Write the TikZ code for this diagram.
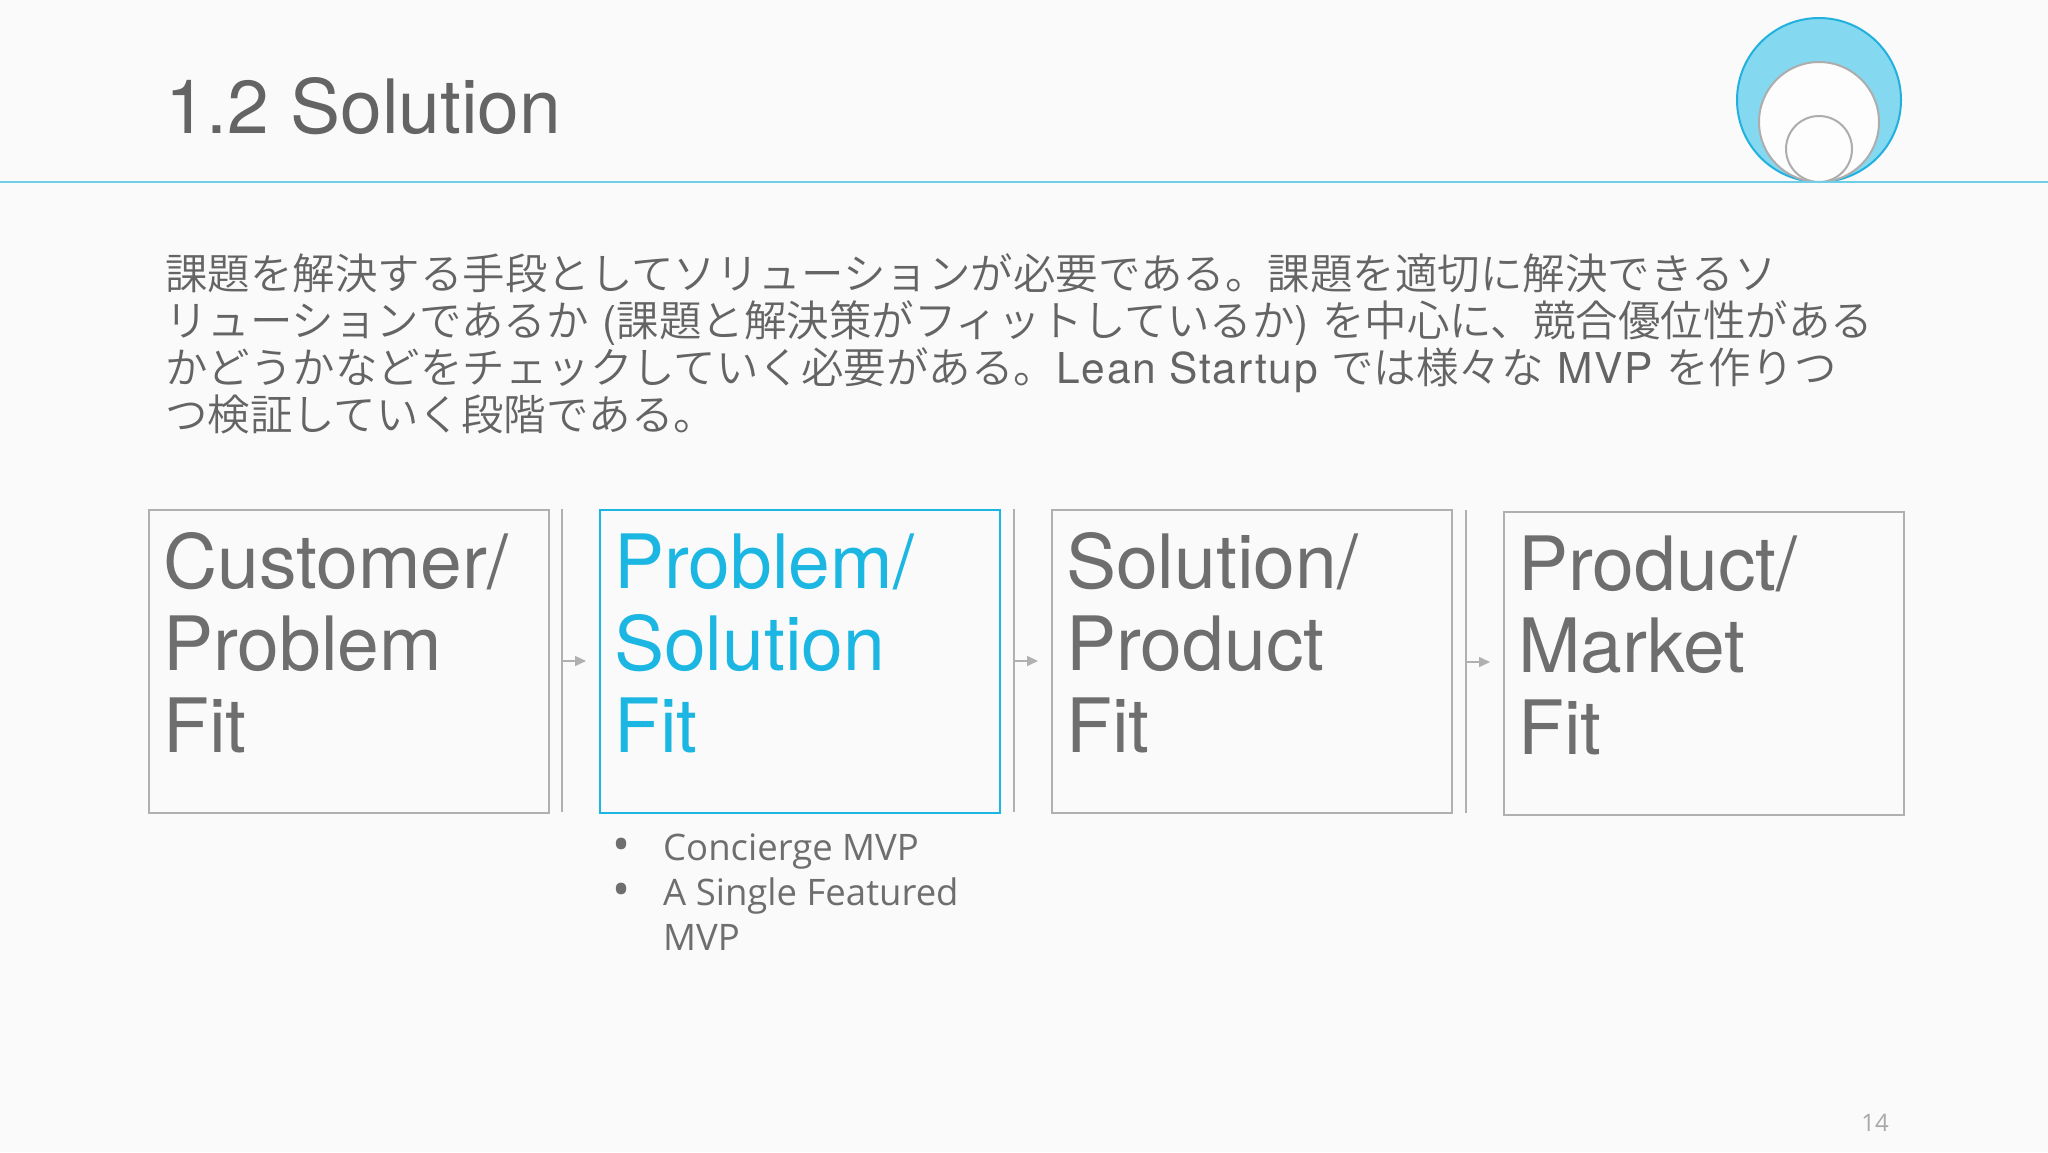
\documentclass[tikz,border=0pt]{standalone}
\usepackage{fontspec}
\usetikzlibrary{arrows.meta}
\newfontfamily\jpfont{Noto Sans CJK JP DemiLight}
\newfontfamily\helv{TeX Gyre Heros}
\newfontfamily\latf{TeX Gyre Heros}[LetterSpace=4]
\newfontfamily\bulfont{Open Sans}
\newcommand{\lt}[1]{{\latf #1}}
\definecolor{bg}{HTML}{FAFAFA}
\definecolor{txtgray}{HTML}{646464}
\definecolor{boxtxt}{HTML}{6E6E6E}
\definecolor{hicyan}{HTML}{1BB6E2}
\definecolor{linecyan}{HTML}{70CFE8}
\definecolor{boxgray}{HTML}{B0B0B0}
\definecolor{logofill}{HTML}{84D8F0}
\definecolor{logostroke}{HTML}{22B1DE}
\definecolor{innerstroke}{HTML}{ADADAD}
\definecolor{innerfill}{HTML}{FDFDFD}
\definecolor{pagegray}{HTML}{A8A8A8}
\tikzset{
  stagebox/.style={draw=boxgray, line width=1.8pt, minimum width=400pt, minimum height=303pt, anchor=north west, inner sep=0pt, fill=bg},
  hibox/.style={stagebox, draw=hicyan},
  bigtxt/.style={anchor=base west, inner sep=0pt, text=boxtxt, font=\helv\fontsize{75}{81}\selectfont},
  hitxt/.style={bigtxt, text=hicyan},
  bodytxt/.style={anchor=base west, inner sep=0pt, text=txtgray, font=\jpfont\fontsize{42.5}{47}\selectfont},
  bultxt/.style={anchor=base west, inner sep=0pt, text=boxtxt, font=\bulfont\fontsize{36.5}{45}\selectfont},
  sepline/.style={draw=boxgray, line width=1.5pt},
  flowarrow/.style={draw=boxgray, line width=1.5pt, -{Triangle[length=11pt,width=10pt]}},
}
\begin{document}
\begin{tikzpicture}[x=1pt,y=-1pt]
\fill[bg] (0,0) rectangle (2048,1152);
\useasboundingbox (0,0) rectangle (2048,1152);

% logo
\filldraw[fill=logofill, draw=logostroke, line width=2pt] (1819,100) circle (82);
\filldraw[fill=innerfill, draw=innerstroke, line width=2pt] (1819,122) circle (60);
\filldraw[fill=innerfill, draw=innerstroke, line width=2pt] (1819,149) circle (33);

% title and rule
\node[anchor=base west, inner sep=0pt, text=txtgray, font=\helv\fontsize{75}{80}\selectfont] (title) at (165,133) {1.2 Solution};
\coordinate (ruleL) at (0,182);
\coordinate (ruleR) at (2048,182);
\draw[linecyan, line width=1.8pt] (ruleL) -- (ruleR);

% body text
\node[bodytxt] (l1) at (165,289) {課題を解決する手段としてソリューションが必要である。課題を適切に解決できるソ};
\node[bodytxt] (l2) at (165,336) {リューションであるか\lt{ (}課題と解決策がフィットしているか\lt{) }を中心に、競合優位性がある};
\node[bodytxt] (l3) at (165,383) {かどうかなどをチェックしていく必要がある。\lt{Lean Startup }では様々な\lt{ MVP }を作りつ};
\node[bodytxt] (l4) at (165,430) {つ検証していく段階である。};

% boxes
\node[stagebox] (b1) at (148,509) {};
\node[hibox] (b2) at (599,509) {};
\node[stagebox] (b3) at (1051,509) {};
\node[stagebox] (b4) at (1503,511) {};

\node[bigtxt] (t1a) at (163,588) {Customer/};
\node[bigtxt] (t1b) at (163,670) {Problem};
\node[bigtxt] (t1c) at (163,752) {Fit};
\node[hitxt] (t2a) at (614,588) {Problem/};
\node[hitxt] (t2b) at (614,670) {Solution};
\node[hitxt] (t2c) at (614,752) {Fit};
\node[bigtxt] (t3a) at (1066,588) {Solution/};
\node[bigtxt] (t3b) at (1066,670) {Product};
\node[bigtxt] (t3c) at (1066,752) {Fit};
\node[bigtxt] (t4a) at (1518,590) {Product/};
\node[bigtxt] (t4b) at (1518,672) {Market};
\node[bigtxt] (t4c) at (1518,754) {Fit};

% separators and arrows
\coordinate (s1t) at (562,509); \coordinate (s1b) at (562,812);
\coordinate (s1m) at (562,661); \coordinate (a1) at (586,661);
\coordinate (s2t) at (1014,509); \coordinate (s2b) at (1014,812);
\coordinate (s2m) at (1014,661); \coordinate (a2) at (1038,661);
\coordinate (s3t) at (1466,510); \coordinate (s3b) at (1466,813);
\coordinate (s3m) at (1466,662); \coordinate (a3) at (1490,662);
\draw[sepline] (s1t) -- (s1b);
\draw[sepline] (s2t) -- (s2b);
\draw[sepline] (s3t) -- (s3b);
\draw[flowarrow] (s1m) -- (a1);
\draw[flowarrow] (s2m) -- (a2);
\draw[flowarrow] (s3m) -- (a3);

% bullets
\node[bultxt, anchor=center, font=\bulfont\fontsize{48}{48}\selectfont] (d1) at (622,850) {•};
\node[bultxt] (u1) at (663,860) {Concierge MVP};
\node[bultxt, anchor=center, font=\bulfont\fontsize{48}{48}\selectfont] (d2) at (622,895) {•};
\node[bultxt] (u2) at (663,905) {A Single Featured};
\node[bultxt] (u3) at (663,950) {MVP};

% page number
\node[anchor=base east, inner sep=0pt, text=pagegray, font=\bulfont\fontsize{24}{28}\selectfont] (pg) at (1889,1131) {14};
\end{tikzpicture}
\end{document}
